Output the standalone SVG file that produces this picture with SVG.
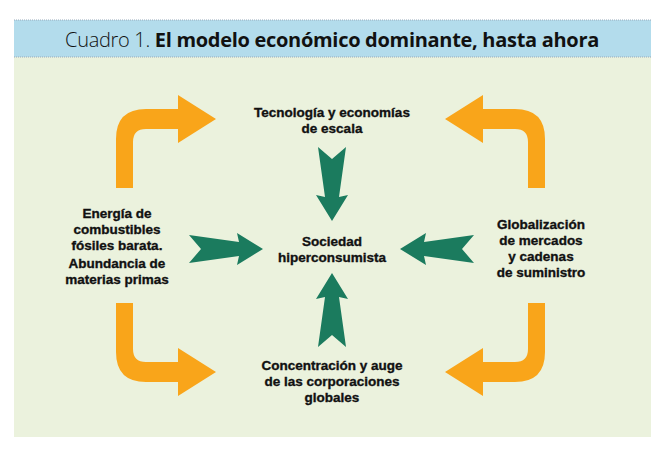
<svg xmlns="http://www.w3.org/2000/svg" width="665" height="454" viewBox="0 0 665 454">
<style>
.t{font-family:"Liberation Sans",Arial,sans-serif;font-weight:bold;font-size:13.5px;text-anchor:middle;fill:#111;stroke:#111;stroke-width:0.35}
.o{fill:#F9A51A}
.g{fill:#1B7B5E}
</style>
<defs>
<path id="oa" d="M116,188 V139 Q116,109 146,109 H178 V95 L216,119 L178,143 V129 H146 Q133,129 133,142 V188 Z"/>
<path id="ga" d="M0,-14 L50,-7 L48,-16 L74,0 L48,16 L50,7 L0,14 L12,0 Z"/>
</defs>
<rect x="0" y="0" width="665" height="454" fill="#fff"/>
<rect x="14" y="57" width="637" height="380" fill="#EBF2DD"/>
<rect x="14" y="20" width="637" height="37" fill="#B3DCEC"/>
<line x1="14" y1="20" x2="651" y2="20" stroke="#9ab" stroke-width="1" stroke-dasharray="1 1"/>
<line x1="14" y1="57" x2="651" y2="57" stroke="#9ab" stroke-width="1" stroke-dasharray="1 1"/>
<text x="332" y="47" font-family="'Open Sans','Liberation Sans',sans-serif" font-size="20" text-anchor="middle" fill="#111" letter-spacing="-0.3"><tspan font-weight="300">Cuadro 1. </tspan><tspan font-weight="bold">El modelo económico dominante, hasta ahora</tspan></text>
<g id="connectors">
<use href="#oa" class="o"/>
<use href="#oa" class="o" transform="translate(661,0) scale(-1,1)"/>
<use href="#oa" class="o" transform="translate(0,491) scale(1,-1)"/>
<use href="#oa" class="o" transform="translate(661,491) scale(-1,-1)"/>
<use href="#ga" class="g" transform="translate(189,249)"/>
<use href="#ga" class="g" transform="translate(474,249) scale(-1,1)"/>
<use href="#ga" class="g" transform="translate(332,147) rotate(90)"/>
<use href="#ga" class="g" transform="translate(332,347) rotate(-90)"/>
</g>
<g id="top"><text class="t" x="332" y="117">Tecnología y economías</text><text class="t" x="332" y="133">de escala</text></g>
<g id="center"><text class="t" x="332" y="246">Sociedad</text><text class="t" x="332" y="262">hiperconsumista</text></g>
<g id="left"><text class="t" x="117" y="218">Energía de</text><text class="t" x="117" y="234">combustibles</text><text class="t" x="117" y="250">fósiles barata.</text><text class="t" x="117" y="268">Abundancia de</text><text class="t" x="117" y="284">materias primas</text></g>
<g id="right"><text class="t" x="541" y="229">Globalización</text><text class="t" x="541" y="245">de mercados</text><text class="t" x="541" y="261">y cadenas</text><text class="t" x="541" y="277">de suministro</text></g>
<g id="bottom"><text class="t" x="332" y="370">Concentración y auge</text><text class="t" x="332" y="386">de las corporaciones</text><text class="t" x="332" y="402">globales</text></g>
</svg>
